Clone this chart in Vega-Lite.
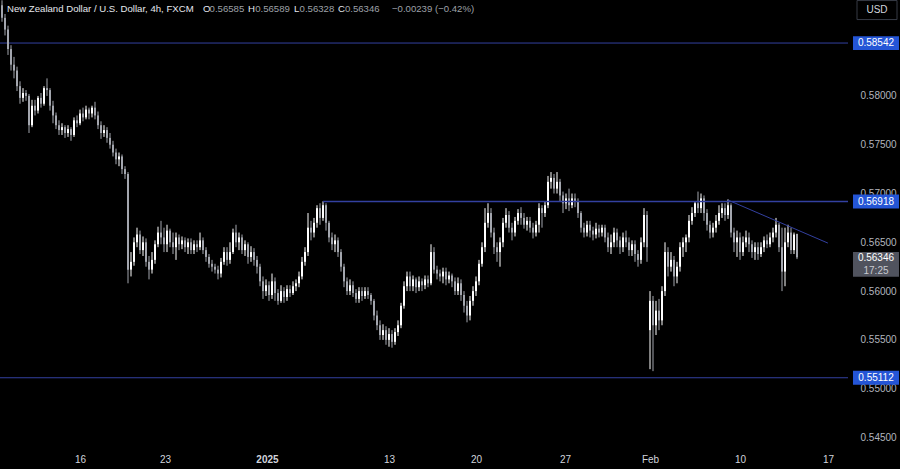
{
  "$schema": "https://vega.github.io/schema/vega-lite/v6.json",
  "width": 848,
  "height": 445,
  "padding": {"left": 0, "top": 0, "right": 52, "bottom": 24},
  "autosize": {"type": "none"},
  "background": "#000000",
  "config": {"view": {"stroke": null}, "font": "Liberation Sans"},
  "datasets": {
    "candles": [
      {"i":0,"o":0.5893,"h":0.5898,"l":0.5876,"c":0.5880},
      {"i":1,"o":0.5880,"h":0.5884,"l":0.5862,"c":0.5868},
      {"i":2,"o":0.5868,"h":0.5872,"l":0.5842,"c":0.5848},
      {"i":3,"o":0.5848,"h":0.5852,"l":0.5826,"c":0.5832},
      {"i":4,"o":0.5832,"h":0.5840,"l":0.5818,"c":0.5826},
      {"i":5,"o":0.5826,"h":0.5830,"l":0.5805,"c":0.5810},
      {"i":6,"o":0.5810,"h":0.5815,"l":0.5792,"c":0.5798},
      {"i":7,"o":0.5798,"h":0.5808,"l":0.5794,"c":0.5803},
      {"i":8,"o":0.5803,"h":0.5806,"l":0.5795,"c":0.5800},
      {"i":9,"o":0.5800,"h":0.5802,"l":0.5762,"c":0.5770},
      {"i":10,"o":0.5770,"h":0.5796,"l":0.5768,"c":0.5790},
      {"i":11,"o":0.5790,"h":0.5796,"l":0.5780,"c":0.5785},
      {"i":12,"o":0.5785,"h":0.5800,"l":0.5782,"c":0.5798},
      {"i":13,"o":0.5798,"h":0.5803,"l":0.5788,"c":0.5792},
      {"i":14,"o":0.5792,"h":0.5810,"l":0.5790,"c":0.5808},
      {"i":15,"o":0.5808,"h":0.5818,"l":0.5800,"c":0.5806},
      {"i":16,"o":0.5806,"h":0.5808,"l":0.5785,"c":0.5790},
      {"i":17,"o":0.5790,"h":0.5795,"l":0.5772,"c":0.5780},
      {"i":18,"o":0.5780,"h":0.5783,"l":0.5766,"c":0.5770},
      {"i":19,"o":0.5770,"h":0.5775,"l":0.5760,"c":0.5765},
      {"i":20,"o":0.5765,"h":0.5772,"l":0.5760,"c":0.5768},
      {"i":21,"o":0.5768,"h":0.5770,"l":0.5757,"c":0.5762},
      {"i":22,"o":0.5762,"h":0.5770,"l":0.5758,"c":0.5766},
      {"i":23,"o":0.5766,"h":0.5768,"l":0.5754,"c":0.5760},
      {"i":24,"o":0.5760,"h":0.5778,"l":0.5758,"c":0.5775},
      {"i":25,"o":0.5775,"h":0.5780,"l":0.5768,"c":0.5772},
      {"i":26,"o":0.5772,"h":0.5786,"l":0.5770,"c":0.5782},
      {"i":27,"o":0.5782,"h":0.5788,"l":0.5774,"c":0.5778},
      {"i":28,"o":0.5778,"h":0.5790,"l":0.5776,"c":0.5786},
      {"i":29,"o":0.5786,"h":0.5788,"l":0.5776,"c":0.5782},
      {"i":30,"o":0.5782,"h":0.5790,"l":0.5778,"c":0.5788},
      {"i":31,"o":0.5788,"h":0.5794,"l":0.5776,"c":0.5780},
      {"i":32,"o":0.5780,"h":0.5784,"l":0.5766,"c":0.5770},
      {"i":33,"o":0.5770,"h":0.5774,"l":0.5756,"c":0.5762},
      {"i":34,"o":0.5762,"h":0.5770,"l":0.5758,"c":0.5765},
      {"i":35,"o":0.5765,"h":0.5768,"l":0.5752,"c":0.5757},
      {"i":36,"o":0.5757,"h":0.5762,"l":0.5746,"c":0.5750},
      {"i":37,"o":0.5750,"h":0.5754,"l":0.5738,"c":0.5742},
      {"i":38,"o":0.5742,"h":0.5746,"l":0.5730,"c":0.5735},
      {"i":39,"o":0.5735,"h":0.5742,"l":0.5728,"c":0.5738},
      {"i":40,"o":0.5738,"h":0.5740,"l":0.5720,"c":0.5725},
      {"i":41,"o":0.5725,"h":0.5728,"l":0.5715,"c":0.5720},
      {"i":42,"o":0.5720,"h":0.5722,"l":0.5608,"c":0.5622},
      {"i":43,"o":0.5622,"h":0.5640,"l":0.5615,"c":0.5630},
      {"i":44,"o":0.5630,"h":0.5655,"l":0.5626,"c":0.5650},
      {"i":45,"o":0.5650,"h":0.5665,"l":0.5645,"c":0.5658},
      {"i":46,"o":0.5658,"h":0.5662,"l":0.5638,"c":0.5642},
      {"i":47,"o":0.5642,"h":0.5656,"l":0.5636,"c":0.5650},
      {"i":48,"o":0.5650,"h":0.5654,"l":0.5625,"c":0.5630},
      {"i":49,"o":0.5630,"h":0.5636,"l":0.5612,"c":0.5622},
      {"i":50,"o":0.5622,"h":0.5640,"l":0.5618,"c":0.5632},
      {"i":51,"o":0.5632,"h":0.5652,"l":0.5628,"c":0.5648},
      {"i":52,"o":0.5648,"h":0.5666,"l":0.5645,"c":0.5660},
      {"i":53,"o":0.5660,"h":0.5672,"l":0.5648,"c":0.5655},
      {"i":54,"o":0.5655,"h":0.5665,"l":0.5640,"c":0.5648},
      {"i":55,"o":0.5648,"h":0.5668,"l":0.5640,"c":0.5662},
      {"i":56,"o":0.5662,"h":0.5664,"l":0.5645,"c":0.5650},
      {"i":57,"o":0.5650,"h":0.5660,"l":0.5638,"c":0.5645},
      {"i":58,"o":0.5645,"h":0.5660,"l":0.5632,"c":0.5655},
      {"i":59,"o":0.5655,"h":0.5658,"l":0.5642,"c":0.5648},
      {"i":60,"o":0.5648,"h":0.5656,"l":0.5643,"c":0.5652},
      {"i":61,"o":0.5652,"h":0.5655,"l":0.5640,"c":0.5645},
      {"i":62,"o":0.5645,"h":0.5654,"l":0.5638,"c":0.5650},
      {"i":63,"o":0.5650,"h":0.5654,"l":0.5638,"c":0.5642},
      {"i":64,"o":0.5642,"h":0.5652,"l":0.5638,"c":0.5648},
      {"i":65,"o":0.5648,"h":0.5652,"l":0.5640,"c":0.5645},
      {"i":66,"o":0.5645,"h":0.5660,"l":0.5642,"c":0.5652},
      {"i":67,"o":0.5652,"h":0.5655,"l":0.5638,"c":0.5642},
      {"i":68,"o":0.5642,"h":0.5645,"l":0.5630,"c":0.5635},
      {"i":69,"o":0.5635,"h":0.5638,"l":0.5624,"c":0.5628},
      {"i":70,"o":0.5628,"h":0.5632,"l":0.5620,"c":0.5625},
      {"i":71,"o":0.5625,"h":0.5628,"l":0.5618,"c":0.5622},
      {"i":72,"o":0.5622,"h":0.5626,"l":0.5612,"c":0.5618},
      {"i":73,"o":0.5618,"h":0.5634,"l":0.5614,"c":0.5630},
      {"i":74,"o":0.5630,"h":0.5645,"l":0.5627,"c":0.5640},
      {"i":75,"o":0.5640,"h":0.5645,"l":0.5626,"c":0.5632},
      {"i":76,"o":0.5632,"h":0.5650,"l":0.5628,"c":0.5640},
      {"i":77,"o":0.5640,"h":0.5664,"l":0.5638,"c":0.5660},
      {"i":78,"o":0.5660,"h":0.5668,"l":0.5645,"c":0.5650},
      {"i":79,"o":0.5650,"h":0.5660,"l":0.5642,"c":0.5655},
      {"i":80,"o":0.5655,"h":0.5658,"l":0.5638,"c":0.5642},
      {"i":81,"o":0.5642,"h":0.5652,"l":0.5636,"c":0.5648},
      {"i":82,"o":0.5648,"h":0.5650,"l":0.5628,"c":0.5635},
      {"i":83,"o":0.5635,"h":0.5646,"l":0.5630,"c":0.5640},
      {"i":84,"o":0.5640,"h":0.5644,"l":0.5626,"c":0.5632},
      {"i":85,"o":0.5632,"h":0.5636,"l":0.5618,"c":0.5625},
      {"i":86,"o":0.5625,"h":0.5628,"l":0.5605,"c":0.5610},
      {"i":87,"o":0.5610,"h":0.5615,"l":0.5592,"c":0.5600},
      {"i":88,"o":0.5600,"h":0.5612,"l":0.5595,"c":0.5606},
      {"i":89,"o":0.5606,"h":0.5610,"l":0.5590,"c":0.5596},
      {"i":90,"o":0.5596,"h":0.5618,"l":0.5592,"c":0.5610},
      {"i":91,"o":0.5610,"h":0.5614,"l":0.5590,"c":0.5598},
      {"i":92,"o":0.5598,"h":0.5602,"l":0.5586,"c":0.5590},
      {"i":93,"o":0.5590,"h":0.5606,"l":0.5588,"c":0.5600},
      {"i":94,"o":0.5600,"h":0.5604,"l":0.5588,"c":0.5594},
      {"i":95,"o":0.5594,"h":0.5606,"l":0.5590,"c":0.5602},
      {"i":96,"o":0.5602,"h":0.5606,"l":0.5594,"c":0.5598},
      {"i":97,"o":0.5598,"h":0.5610,"l":0.5596,"c":0.5605},
      {"i":98,"o":0.5605,"h":0.5612,"l":0.5600,"c":0.5608},
      {"i":99,"o":0.5608,"h":0.5620,"l":0.5604,"c":0.5615},
      {"i":100,"o":0.5615,"h":0.5635,"l":0.5612,"c":0.5630},
      {"i":101,"o":0.5630,"h":0.5645,"l":0.5626,"c":0.5640},
      {"i":102,"o":0.5640,"h":0.5680,"l":0.5636,"c":0.5665},
      {"i":103,"o":0.5665,"h":0.5672,"l":0.5652,"c":0.5660},
      {"i":104,"o":0.5660,"h":0.5675,"l":0.5655,"c":0.5670},
      {"i":105,"o":0.5670,"h":0.5688,"l":0.5665,"c":0.5685},
      {"i":106,"o":0.5685,"h":0.5690,"l":0.5668,"c":0.5675},
      {"i":107,"o":0.5675,"h":0.5692,"l":0.5672,"c":0.5688},
      {"i":108,"o":0.5688,"h":0.5690,"l":0.5662,"c":0.5670},
      {"i":109,"o":0.5670,"h":0.5672,"l":0.5650,"c":0.5655},
      {"i":110,"o":0.5655,"h":0.5660,"l":0.5642,"c":0.5648},
      {"i":111,"o":0.5648,"h":0.5658,"l":0.5640,"c":0.5652},
      {"i":112,"o":0.5652,"h":0.5655,"l":0.5635,"c":0.5640},
      {"i":113,"o":0.5640,"h":0.5643,"l":0.5620,"c":0.5625},
      {"i":114,"o":0.5625,"h":0.5628,"l":0.5604,"c":0.5610},
      {"i":115,"o":0.5610,"h":0.5614,"l":0.5596,"c":0.5600},
      {"i":116,"o":0.5600,"h":0.5612,"l":0.5596,"c":0.5606},
      {"i":117,"o":0.5606,"h":0.5610,"l":0.5594,"c":0.5598},
      {"i":118,"o":0.5598,"h":0.5602,"l":0.5588,"c":0.5592},
      {"i":119,"o":0.5592,"h":0.5604,"l":0.5588,"c":0.5600},
      {"i":120,"o":0.5600,"h":0.5604,"l":0.5590,"c":0.5595},
      {"i":121,"o":0.5595,"h":0.5604,"l":0.5592,"c":0.5600},
      {"i":122,"o":0.5600,"h":0.5604,"l":0.5592,"c":0.5596},
      {"i":123,"o":0.5596,"h":0.5598,"l":0.5586,"c":0.5590},
      {"i":124,"o":0.5590,"h":0.5592,"l":0.5570,"c":0.5575},
      {"i":125,"o":0.5575,"h":0.5580,"l":0.5560,"c":0.5565},
      {"i":126,"o":0.5565,"h":0.5570,"l":0.5550,"c":0.5555},
      {"i":127,"o":0.5555,"h":0.5566,"l":0.5550,"c":0.5560},
      {"i":128,"o":0.5560,"h":0.5564,"l":0.5545,"c":0.5550},
      {"i":129,"o":0.5550,"h":0.5562,"l":0.5543,"c":0.5556},
      {"i":130,"o":0.5556,"h":0.5560,"l":0.5542,"c":0.5548},
      {"i":131,"o":0.5548,"h":0.5562,"l":0.5545,"c":0.5558},
      {"i":132,"o":0.5558,"h":0.5570,"l":0.5554,"c":0.5565},
      {"i":133,"o":0.5565,"h":0.5588,"l":0.5562,"c":0.5585},
      {"i":134,"o":0.5585,"h":0.5610,"l":0.5582,"c":0.5605},
      {"i":135,"o":0.5605,"h":0.5620,"l":0.5600,"c":0.5615},
      {"i":136,"o":0.5615,"h":0.5620,"l":0.5600,"c":0.5605},
      {"i":137,"o":0.5605,"h":0.5616,"l":0.5600,"c":0.5612},
      {"i":138,"o":0.5612,"h":0.5614,"l":0.5598,"c":0.5604},
      {"i":139,"o":0.5604,"h":0.5615,"l":0.5600,"c":0.5610},
      {"i":140,"o":0.5610,"h":0.5613,"l":0.5600,"c":0.5606},
      {"i":141,"o":0.5606,"h":0.5616,"l":0.5602,"c":0.5612},
      {"i":142,"o":0.5612,"h":0.5616,"l":0.5604,"c":0.5608},
      {"i":143,"o":0.5608,"h":0.5648,"l":0.5606,"c":0.5640},
      {"i":144,"o":0.5640,"h":0.5645,"l":0.5618,"c":0.5622},
      {"i":145,"o":0.5622,"h":0.5626,"l":0.5612,"c":0.5618},
      {"i":146,"o":0.5618,"h":0.5622,"l":0.5610,"c":0.5615},
      {"i":147,"o":0.5615,"h":0.5624,"l":0.5608,"c":0.5620},
      {"i":148,"o":0.5620,"h":0.5624,"l":0.5606,"c":0.5612},
      {"i":149,"o":0.5612,"h":0.5620,"l":0.5608,"c":0.5616},
      {"i":150,"o":0.5616,"h":0.5618,"l":0.5604,"c":0.5610},
      {"i":151,"o":0.5610,"h":0.5614,"l":0.5596,"c":0.5600},
      {"i":152,"o":0.5600,"h":0.5614,"l":0.5596,"c":0.5608},
      {"i":153,"o":0.5608,"h":0.5612,"l":0.5590,"c":0.5596},
      {"i":154,"o":0.5596,"h":0.5600,"l":0.5578,"c":0.5585},
      {"i":155,"o":0.5585,"h":0.5590,"l":0.5568,"c":0.5575},
      {"i":156,"o":0.5575,"h":0.5595,"l":0.5570,"c":0.5590},
      {"i":157,"o":0.5590,"h":0.5605,"l":0.5585,"c":0.5600},
      {"i":158,"o":0.5600,"h":0.5615,"l":0.5595,"c":0.5610},
      {"i":159,"o":0.5610,"h":0.5632,"l":0.5606,"c":0.5628},
      {"i":160,"o":0.5628,"h":0.5650,"l":0.5625,"c":0.5645},
      {"i":161,"o":0.5645,"h":0.5685,"l":0.5640,"c":0.5670},
      {"i":162,"o":0.5670,"h":0.5690,"l":0.5665,"c":0.5680},
      {"i":163,"o":0.5680,"h":0.5685,"l":0.5655,"c":0.5660},
      {"i":164,"o":0.5660,"h":0.5665,"l":0.5638,"c":0.5645},
      {"i":165,"o":0.5645,"h":0.5650,"l":0.5630,"c":0.5640},
      {"i":166,"o":0.5640,"h":0.5655,"l":0.5625,"c":0.5650},
      {"i":167,"o":0.5650,"h":0.5675,"l":0.5645,"c":0.5670},
      {"i":168,"o":0.5670,"h":0.5685,"l":0.5665,"c":0.5678},
      {"i":169,"o":0.5678,"h":0.5682,"l":0.5660,"c":0.5665},
      {"i":170,"o":0.5665,"h":0.5670,"l":0.5652,"c":0.5660},
      {"i":171,"o":0.5660,"h":0.5676,"l":0.5656,"c":0.5672},
      {"i":172,"o":0.5672,"h":0.5684,"l":0.5668,"c":0.5680},
      {"i":173,"o":0.5680,"h":0.5686,"l":0.5668,"c":0.5675},
      {"i":174,"o":0.5675,"h":0.5680,"l":0.5664,"c":0.5668},
      {"i":175,"o":0.5668,"h":0.5676,"l":0.5662,"c":0.5672},
      {"i":176,"o":0.5672,"h":0.5676,"l":0.5660,"c":0.5665},
      {"i":177,"o":0.5665,"h":0.5670,"l":0.5654,"c":0.5660},
      {"i":178,"o":0.5660,"h":0.5672,"l":0.5656,"c":0.5668},
      {"i":179,"o":0.5668,"h":0.5690,"l":0.5660,"c":0.5685},
      {"i":180,"o":0.5685,"h":0.5688,"l":0.5665,"c":0.5680},
      {"i":181,"o":0.5680,"h":0.5692,"l":0.5676,"c":0.5688},
      {"i":182,"o":0.5688,"h":0.5718,"l":0.5685,"c":0.5712},
      {"i":183,"o":0.5712,"h":0.5722,"l":0.5705,"c":0.5716},
      {"i":184,"o":0.5716,"h":0.5720,"l":0.5700,"c":0.5705},
      {"i":185,"o":0.5705,"h":0.5722,"l":0.5700,"c":0.5712},
      {"i":186,"o":0.5712,"h":0.5715,"l":0.5692,"c":0.5698},
      {"i":187,"o":0.5698,"h":0.5702,"l":0.5680,"c":0.5690},
      {"i":188,"o":0.5690,"h":0.5700,"l":0.5684,"c":0.5695},
      {"i":189,"o":0.5695,"h":0.5705,"l":0.5682,"c":0.5688},
      {"i":190,"o":0.5688,"h":0.5700,"l":0.5685,"c":0.5695},
      {"i":191,"o":0.5695,"h":0.5700,"l":0.5686,"c":0.5692},
      {"i":192,"o":0.5692,"h":0.5695,"l":0.5675,"c":0.5680},
      {"i":193,"o":0.5680,"h":0.5682,"l":0.5660,"c":0.5665},
      {"i":194,"o":0.5665,"h":0.5670,"l":0.5655,"c":0.5660},
      {"i":195,"o":0.5660,"h":0.5672,"l":0.5656,"c":0.5668},
      {"i":196,"o":0.5668,"h":0.5672,"l":0.5655,"c":0.5662},
      {"i":197,"o":0.5662,"h":0.5666,"l":0.5652,"c":0.5658},
      {"i":198,"o":0.5658,"h":0.5670,"l":0.5654,"c":0.5664},
      {"i":199,"o":0.5664,"h":0.5668,"l":0.5655,"c":0.5660},
      {"i":200,"o":0.5660,"h":0.5668,"l":0.5656,"c":0.5665},
      {"i":201,"o":0.5665,"h":0.5668,"l":0.5650,"c":0.5655},
      {"i":202,"o":0.5655,"h":0.5660,"l":0.5640,"c":0.5645},
      {"i":203,"o":0.5645,"h":0.5658,"l":0.5638,"c":0.5650},
      {"i":204,"o":0.5650,"h":0.5665,"l":0.5645,"c":0.5660},
      {"i":205,"o":0.5660,"h":0.5664,"l":0.5645,"c":0.5652},
      {"i":206,"o":0.5652,"h":0.5656,"l":0.5638,"c":0.5645},
      {"i":207,"o":0.5645,"h":0.5660,"l":0.5640,"c":0.5655},
      {"i":208,"o":0.5655,"h":0.5662,"l":0.5645,"c":0.5650},
      {"i":209,"o":0.5650,"h":0.5655,"l":0.5636,"c":0.5642},
      {"i":210,"o":0.5642,"h":0.5652,"l":0.5636,"c":0.5648},
      {"i":211,"o":0.5648,"h":0.5652,"l":0.5630,"c":0.5638},
      {"i":212,"o":0.5638,"h":0.5642,"l":0.5625,"c":0.5632},
      {"i":213,"o":0.5632,"h":0.5655,"l":0.5628,"c":0.5650},
      {"i":214,"o":0.5650,"h":0.5685,"l":0.5645,"c":0.5678},
      {"i":215,"o":0.5678,"h":0.5682,"l":0.5630,"c":0.5645},
      {"i":216,"o":0.5560,"h":0.5600,"l":0.5520,"c":0.5590},
      {"i":217,"o":0.5590,"h":0.5595,"l":0.5518,"c":0.5565},
      {"i":218,"o":0.5565,"h":0.5590,"l":0.5555,"c":0.5580},
      {"i":219,"o":0.5580,"h":0.5592,"l":0.5560,"c":0.5570},
      {"i":220,"o":0.5570,"h":0.5605,"l":0.5565,"c":0.5600},
      {"i":221,"o":0.5600,"h":0.5650,"l":0.5595,"c":0.5640},
      {"i":222,"o":0.5640,"h":0.5645,"l":0.5615,"c":0.5625},
      {"i":223,"o":0.5625,"h":0.5640,"l":0.5620,"c":0.5632},
      {"i":224,"o":0.5632,"h":0.5636,"l":0.5605,"c":0.5615},
      {"i":225,"o":0.5615,"h":0.5630,"l":0.5608,"c":0.5625},
      {"i":226,"o":0.5625,"h":0.5650,"l":0.5620,"c":0.5645},
      {"i":227,"o":0.5645,"h":0.5655,"l":0.5635,"c":0.5650},
      {"i":228,"o":0.5650,"h":0.5658,"l":0.5640,"c":0.5655},
      {"i":229,"o":0.5655,"h":0.5678,"l":0.5650,"c":0.5672},
      {"i":230,"o":0.5672,"h":0.5686,"l":0.5668,"c":0.5680},
      {"i":231,"o":0.5680,"h":0.5692,"l":0.5676,"c":0.5690},
      {"i":232,"o":0.5690,"h":0.5702,"l":0.5680,"c":0.5685},
      {"i":233,"o":0.5685,"h":0.5700,"l":0.5680,"c":0.5695},
      {"i":234,"o":0.5695,"h":0.5698,"l":0.5672,"c":0.5680},
      {"i":235,"o":0.5680,"h":0.5684,"l":0.5662,"c":0.5668},
      {"i":236,"o":0.5668,"h":0.5672,"l":0.5654,"c":0.5660},
      {"i":237,"o":0.5660,"h":0.5670,"l":0.5655,"c":0.5665},
      {"i":238,"o":0.5665,"h":0.5678,"l":0.5660,"c":0.5672},
      {"i":239,"o":0.5672,"h":0.5688,"l":0.5668,"c":0.5680},
      {"i":240,"o":0.5680,"h":0.5690,"l":0.5675,"c":0.5685},
      {"i":241,"o":0.5685,"h":0.5690,"l":0.5672,"c":0.5678},
      {"i":242,"o":0.5678,"h":0.5694,"l":0.5674,"c":0.5688},
      {"i":243,"o":0.5688,"h":0.5690,"l":0.5655,"c":0.5660},
      {"i":244,"o":0.5660,"h":0.5665,"l":0.5640,"c":0.5650},
      {"i":245,"o":0.5650,"h":0.5662,"l":0.5635,"c":0.5655},
      {"i":246,"o":0.5655,"h":0.5660,"l":0.5632,"c":0.5640},
      {"i":247,"o":0.5640,"h":0.5656,"l":0.5636,"c":0.5650},
      {"i":248,"o":0.5650,"h":0.5662,"l":0.5645,"c":0.5655},
      {"i":249,"o":0.5655,"h":0.5660,"l":0.5640,"c":0.5648},
      {"i":250,"o":0.5648,"h":0.5652,"l":0.5634,"c":0.5640},
      {"i":251,"o":0.5640,"h":0.5650,"l":0.5632,"c":0.5645},
      {"i":252,"o":0.5645,"h":0.5650,"l":0.5632,"c":0.5638},
      {"i":253,"o":0.5638,"h":0.5650,"l":0.5635,"c":0.5645},
      {"i":254,"o":0.5645,"h":0.5656,"l":0.5640,"c":0.5652},
      {"i":255,"o":0.5652,"h":0.5658,"l":0.5644,"c":0.5648},
      {"i":256,"o":0.5648,"h":0.5660,"l":0.5645,"c":0.5655},
      {"i":257,"o":0.5655,"h":0.5665,"l":0.5650,"c":0.5660},
      {"i":258,"o":0.5660,"h":0.5675,"l":0.5655,"c":0.5668},
      {"i":259,"o":0.5668,"h":0.5670,"l":0.5640,"c":0.5645},
      {"i":260,"o":0.5645,"h":0.5665,"l":0.5600,"c":0.5620},
      {"i":261,"o":0.5620,"h":0.5665,"l":0.5605,"c":0.5650},
      {"i":262,"o":0.5650,"h":0.5668,"l":0.5645,"c":0.5660},
      {"i":263,"o":0.5660,"h":0.5665,"l":0.5638,"c":0.5642},
      {"i":264,"o":0.5642,"h":0.5660,"l":0.5638,"c":0.5658},
      {"i":265,"o":0.56585,"h":0.56589,"l":0.56328,"c":0.56346}
    ],
    "levels": [{"p":0.58542},{"p":0.56918},{"p":0.55112}],
    "resist": [{"i":107,"p":0.56918},{"i":282,"p":0.56918}],
    "trend": [{"i":242,"p":0.56933},{"i":275.3,"p":0.56492}]
  },
  "layer": [
    {
      "data": {"values": [{"p":0.58542},{"p":0.55112}]},
      "mark": {"type": "rule", "color": "#3340a0", "stroke": "#3340a0", "strokeWidth": 1},
      "encoding": {
        "y": {"field": "p", "type": "quantitative", "scale": {"domain": [0.54423, 0.58983], "nice": false, "zero": false, "padding": 0},
          "axis": {"orient": "right", "values": [0.545,0.55,0.555,0.56,0.565,0.57,0.575,0.58], "format": ".5f", "title": null, "grid": false, "ticks": false, "domain": false, "labelPadding": 12, "labelFontSize": 10, "labelColor": "#b2b5be", "labelFont": "Liberation Sans"}}
      }
    },
    {
      "data": {"name": "candles"},
      "mark": {"type": "rule", "strokeWidth": 1},
      "encoding": {
        "x": {"field": "i", "type": "quantitative",
          "scale": {"domain": [-0.667, 282], "nice": false, "zero": false, "padding": 0},
          "axis": {"values": [26,54.33,88.33,129,158,187.67,216,246,275.33], "labelExpr": "['16','23','2025','13','20','27','Feb','10','17'][indexof([26,54.33,88.33,129,158,187.67,216,246,275.33], datum.value)]", "title": null, "grid": false, "ticks": false, "domain": false, "labelPadding": 9, "labelFontSize": 10, "labelColor": "#d1d4dc", "labelFont": "Liberation Sans", "labelFontWeight": {"condition": {"test": "datum.value == 88.33", "value": "bold"}, "value": "normal"}}},
        "y": {"field": "l", "type": "quantitative"},
        "y2": {"field": "h"},
        "color": {"condition": {"test": "datum.c < datum.o", "value": "#a3a6ae"}, "value": "#ffffff"}
      }
    },
    {
      "data": {"name": "candles"},
      "mark": {"type": "bar", "width": 2},
      "encoding": {
        "x": {"field": "i", "type": "quantitative"},
        "y": {"field": "o", "type": "quantitative"},
        "y2": {"field": "c"},
        "color": {"condition": {"test": "datum.c < datum.o", "value": "#a3a6ae"}, "value": "#ffffff"}
      }
    },
    {
      "data": {"name": "resist"},
      "mark": {"type": "line", "color": "#3340a0", "stroke": "#3340a0", "strokeWidth": 1.6},
      "encoding": {
        "x": {"field": "i", "type": "quantitative"},
        "y": {"field": "p", "type": "quantitative"}
      }
    },
    {
      "data": {"name": "trend"},
      "mark": {"type": "line", "color": "#3340a0", "stroke": "#3340a0", "strokeWidth": 1},
      "encoding": {
        "x": {"field": "i", "type": "quantitative"},
        "y": {"field": "p", "type": "quantitative"}
      }
    },
    {
      "data": {"name": "levels"},
      "mark": {"type": "point", "filled": true, "opacity": 1, "color": "#2455d6", "size": 2116, "shape": "M-1,-0.3L1,-0.3L1,0.3L-1,0.3Z"},
      "encoding": {
        "x": {"datum": 291.33, "type": "quantitative"},
        "y": {"field": "p", "type": "quantitative"}
      }
    },
    {
      "data": {"name": "levels"},
      "mark": {"type": "text", "color": "#ffffff", "fontSize": 10, "font": "Liberation Sans", "align": "center", "baseline": "middle"},
      "encoding": {
        "x": {"datum": 291.33, "type": "quantitative"},
        "y": {"field": "p", "type": "quantitative"},
        "text": {"field": "p", "type": "quantitative", "format": ".5f"}
      }
    },
    {
      "data": {"values": [{"p":0.56346,"t":"17:25"}]},
      "layer": [
        {
          "mark": {"type": "point", "filled": true, "opacity": 1, "color": "#50535e", "size": 2116, "shape": "M-1,-0.54L1,-0.54L1,0.54L-1,0.54Z", "yOffset": 7},
          "encoding": {"x": {"datum": 291.33, "type": "quantitative"}, "y": {"field": "p", "type": "quantitative"}}
        },
        {
          "mark": {"type": "text", "color": "#ffffff", "fontSize": 10, "font": "Liberation Sans", "align": "center", "baseline": "middle", "dy": 1},
          "encoding": {"x": {"datum": 291.33, "type": "quantitative"}, "y": {"field": "p", "type": "quantitative"}, "text": {"field": "p", "type": "quantitative", "format": ".5f"}}
        },
        {
          "mark": {"type": "text", "color": "#c8cad0", "fontSize": 10, "font": "Liberation Sans", "align": "center", "baseline": "middle", "dy": 14},
          "encoding": {"x": {"datum": 291.33, "type": "quantitative"}, "y": {"field": "p", "type": "quantitative"}, "text": {"field": "t"}}
        }
      ]
    },
    {
      "data": {"values": [{"u":"USD"}]},
      "layer": [
        {
          "mark": {"type": "point", "filled": false, "opacity": 1, "color": "#363a45", "strokeWidth": 1, "size": 1600, "shape": "M-1,-0.475L1,-0.475L1,0.475L-1,0.475Z"},
          "encoding": {"x": {"datum": 291.67, "type": "quantitative"}, "y": {"datum": 0.5888, "type": "quantitative"}}
        },
        {
          "mark": {"type": "text", "color": "#d1d4dc", "fontSize": 10, "font": "Liberation Sans", "align": "center", "baseline": "middle"},
          "encoding": {"x": {"datum": 291.67, "type": "quantitative"}, "y": {"datum": 0.5888, "type": "quantitative"}, "text": {"field": "u"}}
        }
      ]
    },
    {
      "data": {"values": [{"t":"New Zealand Dollar / U.S. Dollar, 4h, FXCM"}]},
      "mark": {"type": "text", "color": "#e6e8ee", "fontSize": 9.6, "font": "Liberation Sans", "align": "left", "baseline": "middle"},
      "encoding": {"x": {"datum": 1.67, "type": "quantitative"}, "y": {"datum": 0.5889, "type": "quantitative"}, "text": {"field": "t"}}
    },
    {
      "data": {"values": [{"t":"O","v":"0.56585","k":0},{"t":"H","v":"0.56589","k":1},{"t":"L","v":"0.56328","k":2},{"t":"C","v":"0.56346","k":3}]},
      "layer": [
        {"transform": [{"filter": "datum.k == 0"}], "mark": {"type": "text", "color": "#e6e8ee", "fontSize": 9.6, "font": "Liberation Sans", "align": "left", "baseline": "middle"},
         "encoding": {"x": {"datum": 67, "type": "quantitative"}, "y": {"datum": 0.5889, "type": "quantitative"}, "text": {"field": "t"}}},
        {"transform": [{"filter": "datum.k == 0"}], "mark": {"type": "text", "color": "#9ea0a8", "fontSize": 9.6, "font": "Liberation Sans", "align": "left", "baseline": "middle"},
         "encoding": {"x": {"datum": 69.2, "type": "quantitative"}, "y": {"datum": 0.5889, "type": "quantitative"}, "text": {"field": "v"}}},
        {"transform": [{"filter": "datum.k == 1"}], "mark": {"type": "text", "color": "#e6e8ee", "fontSize": 9.6, "font": "Liberation Sans", "align": "left", "baseline": "middle"},
         "encoding": {"x": {"datum": 82, "type": "quantitative"}, "y": {"datum": 0.5889, "type": "quantitative"}, "text": {"field": "t"}}},
        {"transform": [{"filter": "datum.k == 1"}], "mark": {"type": "text", "color": "#9ea0a8", "fontSize": 9.6, "font": "Liberation Sans", "align": "left", "baseline": "middle"},
         "encoding": {"x": {"datum": 84.4, "type": "quantitative"}, "y": {"datum": 0.5889, "type": "quantitative"}, "text": {"field": "v"}}},
        {"transform": [{"filter": "datum.k == 2"}], "mark": {"type": "text", "color": "#e6e8ee", "fontSize": 9.6, "font": "Liberation Sans", "align": "left", "baseline": "middle"},
         "encoding": {"x": {"datum": 97.3, "type": "quantitative"}, "y": {"datum": 0.5889, "type": "quantitative"}, "text": {"field": "t"}}},
        {"transform": [{"filter": "datum.k == 2"}], "mark": {"type": "text", "color": "#9ea0a8", "fontSize": 9.6, "font": "Liberation Sans", "align": "left", "baseline": "middle"},
         "encoding": {"x": {"datum": 99.2, "type": "quantitative"}, "y": {"datum": 0.5889, "type": "quantitative"}, "text": {"field": "v"}}},
        {"transform": [{"filter": "datum.k == 3"}], "mark": {"type": "text", "color": "#e6e8ee", "fontSize": 9.6, "font": "Liberation Sans", "align": "left", "baseline": "middle"},
         "encoding": {"x": {"datum": 112, "type": "quantitative"}, "y": {"datum": 0.5889, "type": "quantitative"}, "text": {"field": "t"}}},
        {"transform": [{"filter": "datum.k == 3"}], "mark": {"type": "text", "color": "#9ea0a8", "fontSize": 9.6, "font": "Liberation Sans", "align": "left", "baseline": "middle"},
         "encoding": {"x": {"datum": 114.3, "type": "quantitative"}, "y": {"datum": 0.5889, "type": "quantitative"}, "text": {"field": "v"}}}
      ]
    },
    {
      "data": {"values": [{"t":"\u22120.00239 (\u22120.42%)"}]},
      "mark": {"type": "text", "color": "#9ea0a8", "fontSize": 9.6, "font": "Liberation Sans", "align": "left", "baseline": "middle"},
      "encoding": {"x": {"datum": 130, "type": "quantitative"}, "y": {"datum": 0.5889, "type": "quantitative"}, "text": {"field": "t"}}
    }
  ]
}
